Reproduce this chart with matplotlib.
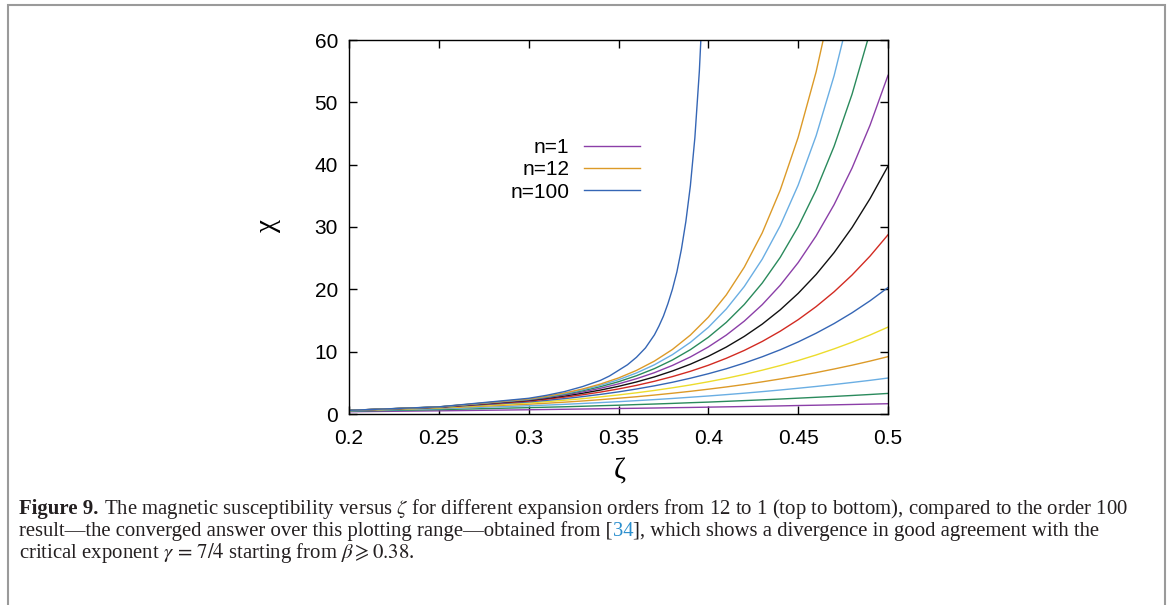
import matplotlib
matplotlib.use("Agg")
import matplotlib.pyplot as plt
from matplotlib.patches import Rectangle

W, H = 1171, 605
SANS = ["Liberation Sans", "DejaVu Sans"]
SERIF = ["Liberation Serif", "DejaVu Serif"]

# ---- data ----
zeta = [0.20, 0.25, 0.30, 0.31, 0.32, 0.33, 0.34, 0.35, 0.36, 0.37, 0.38,
        0.39, 0.40, 0.41, 0.42, 0.43, 0.44, 0.45, 0.46, 0.47, 0.48, 0.49, 0.50]
chi_n1 = [0.36, 0.51, 0.68, 0.72, 0.76, 0.80, 0.84, 0.88, 0.92, 0.96, 1.01,
          1.05, 1.10, 1.15, 1.20, 1.25, 1.30, 1.36, 1.41, 1.47, 1.53, 1.59, 1.65]
chi_n2 = [0.46, 0.70, 1.02, 1.09, 1.16, 1.24, 1.33, 1.41, 1.51, 1.60, 1.70,
          1.81, 1.91, 2.03, 2.15, 2.27, 2.40, 2.54, 2.68, 2.82, 2.97, 3.13, 3.30]
chi_n3 = [0.52, 0.85, 1.32, 1.43, 1.55, 1.69, 1.83, 1.98, 2.14, 2.31, 2.49,
          2.69, 2.89, 3.11, 3.34, 3.59, 3.85, 4.13, 4.42, 4.73, 5.06, 5.40, 5.77]
chi_n4 = [0.55, 0.95, 1.57, 1.73, 1.90, 2.09, 2.30, 2.53, 2.77, 3.04, 3.33,
          3.64, 3.98, 4.34, 4.73, 5.16, 5.62, 6.11, 6.64, 7.22, 7.83, 8.49, 9.20]
chi_n5 = [0.57, 1.01, 1.77, 1.98, 2.21, 2.46, 2.75, 3.06, 3.40, 3.78, 4.20,
          4.66, 5.17, 5.73, 6.35, 7.03, 7.77, 8.58, 9.47, 10.45, 11.51, 12.67, 13.94]
chi_n6 = [0.58, 1.06, 1.94, 2.19, 2.47, 2.79, 3.15, 3.55, 4.01, 4.52, 5.09,
          5.74, 6.46, 7.26, 8.17, 9.18, 10.30, 11.56, 12.96, 14.51, 16.24, 18.16, 20.29]
chi_n7 = [0.59, 1.09, 2.07, 2.37, 2.70, 3.08, 3.52, 4.02, 4.59, 5.25, 6.00,
          6.85, 7.82, 8.94, 10.20, 11.64, 13.28, 15.13, 17.23, 19.61, 22.30, 25.33, 28.75]
chi_n8 = [0.59, 1.11, 2.18, 2.51, 2.89, 3.33, 3.84, 4.44, 5.14, 5.95, 6.90,
          7.99, 9.26, 10.74, 12.45, 14.42, 16.71, 19.35, 22.39, 25.89, 29.92, 34.55, 39.76]
chi_n9 = [0.59, 1.12, 2.26, 2.62, 3.04, 3.54, 4.13, 4.83, 5.66, 6.63, 7.79,
          9.15, 10.76, 12.66, 14.90, 17.54, 20.65, 24.29, 28.58, 33.59, 39.46, 46.33, 54.33]
chi_n10 = [0.59, 1.13, 2.33, 2.71, 3.17, 3.73, 4.39, 5.18, 6.14, 7.28, 8.66,
           10.32, 12.31, 14.70, 17.57, 21.01, 25.12, 30.05, 35.93, 42.95, 51.31, 61.30, 72.70]
chi_n11 = [0.59, 1.14, 2.37, 2.79, 3.28, 3.88, 4.61, 5.50, 6.58, 7.90, 9.52,
           11.49, 13.90, 16.85, 20.45, 24.84, 30.20, 36.72, 44.64, 54.27, 65.94, 80.10, 97.10]
chi_n12 = [0.59, 1.14, 2.41, 2.84, 3.37, 4.01, 4.81, 5.78, 6.99, 8.49, 10.35,
           12.66, 15.53, 19.11, 23.55, 29.06, 35.91, 44.39, 54.89, 67.88, 83.90, 103.6, 127.9]

zeta_100 = [0.20, 0.25, 0.30, 0.31, 0.32, 0.33, 0.34, 0.345, 0.35, 0.355, 0.36,
            0.365, 0.37, 0.3725, 0.375, 0.3775, 0.38, 0.3825, 0.385, 0.3875,
            0.39, 0.3925, 0.395, 0.3975]
chi_n100 = [0.59, 1.15, 2.52, 3.0, 3.6, 4.4, 5.4, 6.1, 7.0, 7.9, 9.1,
            10.6, 12.7, 14.1, 15.7, 17.7, 20.0, 22.8, 26.4, 30.9,
            36.6, 44.3, 55.0, 70.0]

orders = [chi_n1, chi_n2, chi_n3, chi_n4, chi_n5, chi_n6,
          chi_n7, chi_n8, chi_n9, chi_n10, chi_n11, chi_n12]
xticks = [0.2, 0.25, 0.3, 0.35, 0.4, 0.45, 0.5]
xtick_labels = ["0.2", "0.25", "0.3", "0.35", "0.4", "0.45", "0.5"]
yticks = [0, 10, 20, 30, 40, 50, 60]

# gnuplot-like line colours, cycling every 8 curves
_COLORS = ["#8b3fa8", "#2a8a5c", "#6aaee3", "#dc9a28",
           "#ecdc2c", "#3566b5", "#d22b22", "#111111"]

plt.rcParams["mathtext.fontset"] = "stix"

fig = plt.figure(figsize=(W / 100, H / 100), dpi=100)
ax = fig.add_axes([349 / W, 1 - 414 / H, 539 / W, 374 / H])

handles = {}
for i, chi in enumerate(orders):
    ln, = ax.plot(zeta, chi, color=_COLORS[i % 8], lw=1.0)
    handles[i + 1] = ln
ln100, = ax.plot(zeta_100, chi_n100, color="#3566b5", lw=1.0)

ax.set_xlim(0.2, 0.5)
ax.set_ylim(0, 60)
ax.set_xticks(xticks)
ax.set_xticklabels(xtick_labels)
ax.set_yticks(yticks)
ax.tick_params(direction="in", top=True, right=True, length=6, width=1.0,
               labelsize=15)
ax.tick_params(axis="x", pad=11)
ax.tick_params(axis="y", pad=8)
for lab in ax.get_xticklabels() + ax.get_yticklabels():
    lab.set_family(SANS)
for sp in ax.spines.values():
    sp.set_linewidth(1.0)

ax.set_xlabel("\u03b6", fontsize=21, family=SERIF)
ax.set_ylabel("\u03c7", fontsize=21, family=SERIF)
ax.xaxis.set_label_coords(0.503, -0.155)
ax.yaxis.set_label_coords(-0.150, 0.505)
ax.xaxis.label.set_va("center")
ax.yaxis.label.set_va("center")

leg = ax.legend([handles[1], handles[12], ln100], ["n=1", "n=12", "n=100"],
                loc="upper left", bbox_to_anchor=(0.299, 0.737),
                frameon=False, markerfirst=False, handlelength=2.7,
                handletextpad=0.7, labelspacing=0.15, borderpad=0,
                borderaxespad=0, prop={"family": SANS, "size": 15})
for t in leg.get_texts():
    t.set_ha("right")

# outer frame of the figure box
fig.patches.append(Rectangle((8 / W, -0.02), (1165 - 8) / W, 1.02 - 5 / H,
                             transform=fig.transFigure, fill=False,
                             ec="#9a9a9a", lw=1.5))

# ---- caption ----
renderer = fig.canvas.get_renderer()
line1_rest = (r"The magnetic susceptibility versus $\zeta$ for different expansion "
              r"orders from 12 to 1 (top to bottom), compared to the order 100")
probe = fig.text(0, 0, "Figure 9. " + line1_rest, family=SERIF, fontsize=10)
cap_size = 10 * 1103 / probe.get_window_extent(renderer).width
probe.remove()


def _width(txt, **kw):
    t = fig.text(0, 0, txt, family=SERIF, fontsize=cap_size, **kw)
    w = t.get_window_extent(renderer).width
    t.remove()
    return w


space = _width("a a") - _width("aa")


def caption_line(base_px, pieces, x_px=19):
    x = x_px
    for txt, color, weight, gap in pieces:
        t = fig.text(x / W, 1 - base_px / H, txt, family=SERIF,
                     fontsize=cap_size, color=color, fontweight=weight,
                     va="baseline", ha="left")
        x = t.get_window_extent(renderer).x1 + gap


caption_line(514, [("Figure 9.", "#231f20", "bold", space),
                   (line1_rest, "#231f20", "normal", 0)])
caption_line(536, [("result\u2014the converged answer over this plotting range\u2014"
                    "obtained from [", "#231f20", "normal", 0),
                   ("34", "#2b8fce", "normal", 0),
                   ("], which shows a divergence in good agreement with the",
                    "#231f20", "normal", 0)])
caption_line(558, [(r"critical exponent $\gamma\,=\,7/4$ starting from "
                    r"$\beta\geqslant 0.38$.", "#231f20", "normal", 0)])

fig.savefig("out.png", dpi=100)
